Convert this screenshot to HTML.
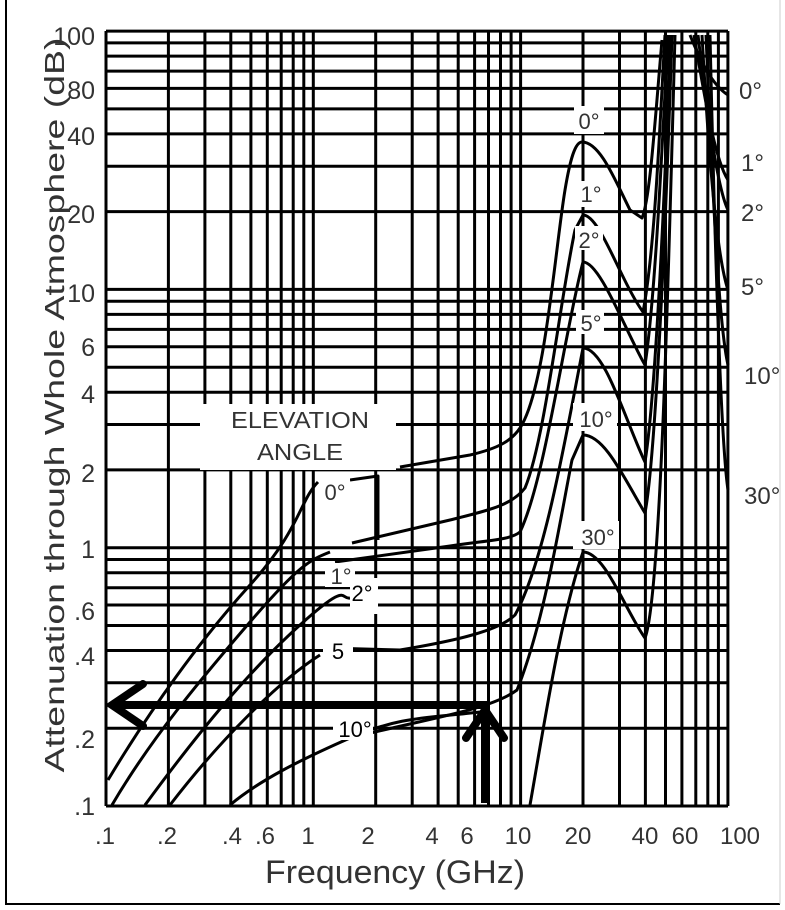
<!DOCTYPE html>
<html><head><meta charset="utf-8"><style>
html,body{margin:0;padding:0;background:#fff;}
svg{display:block;font-family:"Liberation Sans",sans-serif;}
</style></head><body>
<svg width="785" height="910" viewBox="0 0 785 910" xmlns="http://www.w3.org/2000/svg">
<rect width="785" height="910" fill="#fff"/>
<line x1="6" y1="0" x2="6" y2="905" stroke="#000" stroke-width="2"/>
<line x1="6" y1="904" x2="780" y2="904" stroke="#000" stroke-width="2"/>
<line x1="780" y1="0" x2="780" y2="904" stroke="#ccc" stroke-width="1"/>
<path stroke="#000" stroke-width="3" fill="none" d="
M106,31V806 M168.4,31V806 M204.9,31V806 M230.8,31V806 M250.9,31V806 M267.3,31V806 M281.2,31V806 M293.2,31V806 M303.8,31V806
M313.3,31V806 M375.7,31V806 M412.2,31V806 M438.1,31V806 M458.2,31V806 M474.6,31V806 M488.5,31V806 M500.5,31V806 M511.1,31V806
M520.6,31V806 M583,31V806 M619.5,31V806 M645.4,31V806 M665.5,31V806 M681.9,31V806 M695.8,31V806 M707.8,31V806 M718.4,31V806 M727.9,31V806
M106,806H728 M106,728.2H728 M106,682.8H728 M106,650.5H728 M106,625.5H728 M106,605H728 M106,587.7H728 M106,572.7H728 M106,559.5H728
M106,547.7H728 M106,469.9H728 M106,424.5H728 M106,392.2H728 M106,367.2H728 M106,346.7H728 M106,329.4H728 M106,314.4H728 M106,301.2H728
M106,289.4H728 M106,211.6H728 M106,166.2H728 M106,133.9H728 M106,108.9H728 M106,88.4H728 M106,71.1H728 M106,56.1H728 M106,42.9H728 M106,31.1H728"/>
<rect x="200" y="404" width="196" height="66" fill="#fff"/>
<g fill="#333" font-size="23" text-anchor="middle">
<text x="300" y="428" textLength="138" lengthAdjust="spacingAndGlyphs">ELEVATION</text>
<text x="300" y="460" textLength="86" lengthAdjust="spacingAndGlyphs">ANGLE</text>
</g>
<g stroke="#000" stroke-width="3" fill="none" stroke-linejoin="round">
<path d="M108,780 C150,710 200,640 250,585 S300,500 318,482"/>
<path d="M112,805 C150,740 200,680 250,622 S310,560 330,552"/>
<path d="M145,805 C200,730 250,670 300,625 S340,600 350,598"/>
<path d="M170,805 C220,740 280,680 320,655"/>
<path d="M230,805 C260,780 300,760 350,738 S430,718 480,712"/>
<path d="M400,467 L470,455 C500,448 512,440 520,428 C545,390 555,250 565,190 C570,160 575,142 582,142 C600,142 615,180 630,210 L642,218 C650,200 655,120 662,40"/>
<path d="M352,543 L450,520 C490,510 512,505 525,488 C545,440 560,300 575,230 L583,215 C600,215 620,280 643,312 C655,250 660,120 665,35"/>
<path d="M335,562 L450,546 C490,540 510,540 520,532 C545,480 565,330 583,262 C600,262 625,330 645,365 C655,300 662,150 668,35"/>
<path d="M328,648 L400,650 C460,640 500,630 515,615 C545,560 565,440 583,348 C605,348 625,420 645,462 C655,400 665,200 670,35"/>
<path d="M350,738 C430,718 490,710 517,690 C545,620 560,520 572,460 L583,435 C605,435 625,480 645,513 C655,460 665,250 672,35"/>
<path d="M530,805 C545,720 560,620 583,552 C605,552 625,610 645,638 C660,600 668,300 675,35"/>
<path d="M690,35 C700,60 712,85 728,95"/>
<path d="M694,35 C705,100 715,160 728,180"/>
<path d="M698,35 C708,120 718,190 728,210"/>
<path d="M702,35 C710,180 718,260 728,290"/>
<path d="M706,35 C714,230 720,330 728,365"/>
<path d="M710,35 C716,300 722,450 728,490"/>
<path d="M350,480 L378,476 L378,540"/>
</g>
<g fill="#fff">
<rect x="574" y="106" width="30" height="28"/><rect x="578" y="181" width="26" height="26"/>
<rect x="575" y="226" width="28" height="24"/><rect x="576" y="310" width="28" height="24"/>
<rect x="573" y="403" width="44" height="28"/><rect x="573" y="521" width="46" height="28"/>
<rect x="320" y="478" width="30" height="26"/><rect x="325" y="563" width="30" height="24"/>
<rect x="350" y="578" width="28" height="36"/><rect x="323" y="630" width="30" height="36"/>
<rect x="333" y="712" width="40" height="28"/>
</g>
<g font-size="22" fill="#333" text-anchor="middle">
<text x="589" y="129">0°</text><text x="591" y="202">1°</text>
<text x="589" y="248">2°</text><text x="591" y="331">5°</text>
<text x="596" y="427">10°</text><text x="598" y="545">30°</text>
<text x="335" y="500">0°</text><text x="341" y="584">1°</text>
</g>
<g font-size="22" fill="#000" text-anchor="middle">
<text x="362" y="601">2°</text><text x="338" y="659">5</text><text x="355" y="737">10°</text>
</g>
<g font-size="25" fill="#333" text-anchor="end">
<text x="95" y="45">100</text><text x="95" y="99">80</text><text x="95" y="145">40</text>
<text x="95" y="223">20</text><text x="95" y="302">10</text><text x="95" y="356">6</text>
<text x="95" y="403">4</text><text x="95" y="482">2</text><text x="95" y="558">1</text>
<text x="95" y="620">.6</text><text x="95" y="665">.4</text><text x="95" y="748">.2</text>
<text x="95" y="815">.1</text>
</g>
<g font-size="24" fill="#333" text-anchor="middle">
<text x="105" y="844">.1</text><text x="167" y="844">.2</text><text x="232" y="844">.4</text>
<text x="265" y="844">.6</text><text x="308" y="844">1</text><text x="368" y="844">2</text>
<text x="432" y="844">4</text><text x="467" y="844">6</text><text x="518" y="844">10</text>
<text x="578" y="844">20</text><text x="645" y="844">40</text><text x="685" y="844">60</text>
<text x="740" y="844">100</text>
</g>
<g font-size="24" fill="#333">
<text x="739" y="99">0°</text><text x="741" y="171">1°</text><text x="741" y="221">2°</text>
<text x="741" y="295">5°</text><text x="744" y="384">10°</text><text x="744" y="504">30°</text>
</g>
<text x="395" y="883" font-size="32" fill="#333" text-anchor="middle" textLength="260" lengthAdjust="spacingAndGlyphs">Frequency (GHz)</text>
<text transform="translate(64,405) rotate(-90)" font-size="28" fill="#333" text-anchor="middle" textLength="735" lengthAdjust="spacingAndGlyphs">Attenuation through  Whole Atmosphere (dB)</text>
<g stroke="#000" stroke-width="8" fill="none" stroke-linecap="round">
<line x1="112" y1="705" x2="490" y2="705" stroke-linecap="butt"/>
<polyline points="143,684 112,705 143,726"/>
<line x1="485" y1="803" x2="485" y2="712" stroke-linecap="butt"/>
<polyline points="466,738 485,710 504,738"/>
</g>
</svg>
</body></html>
